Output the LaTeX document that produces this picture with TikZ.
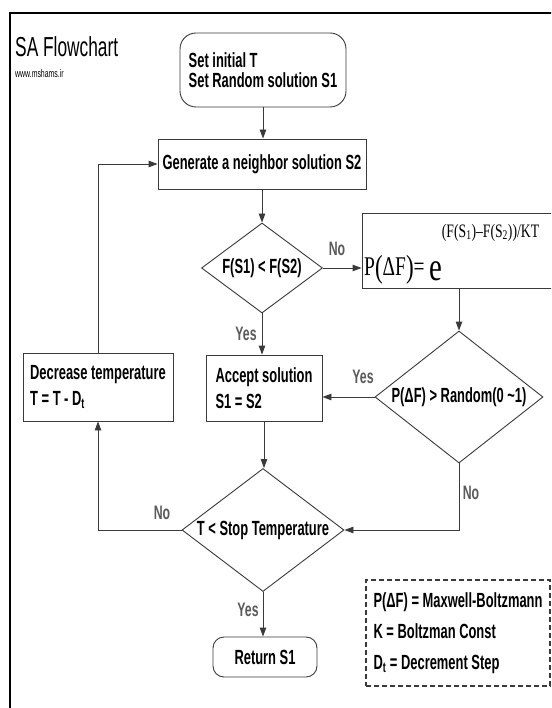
\documentclass[tikz,border=0pt]{standalone}
\usepackage{fontspec}
\setmainfont{Liberation Sans}
\newfontfamily\nar[FakeStretch=0.63]{Liberation Sans}
\newfontfamily\ser[FakeStretch=0.72]{Liberation Serif}
\usetikzlibrary{shapes.geometric,arrows.meta}
\definecolor{linec}{HTML}{3A3A3A}
\definecolor{labc}{HTML}{5A5A5A}
\newcommand\nodefont{\nar\bfseries\fontsize{20.5}{26}\selectfont}
\newcommand\labfont{\nar\bfseries\fontsize{19.5}{19.5}\selectfont}
\begin{document}
\begin{tikzpicture}[x=1pt,y=-1pt,
 box/.style={draw=linec, line width=0.9pt, rectangle, inner sep=0pt, font=\nodefont, align=left},
 term/.style={box, rounded corners=16pt},
 dia/.style={draw=linec, line width=0.9pt, diamond, inner sep=0pt, font=\nodefont},
 arr/.style={draw=linec, line width=0.9pt, -{Triangle[length=9pt,width=6.5pt]}},
 lab/.style={text=labc, font=\labfont, inner sep=0pt},
 frame/.style={draw=black, line width=2.6pt}]
\useasboundingbox (0,0) rectangle (551,708);
\clip (0,0) rectangle (551,708);
\fill[white] (0,0) rectangle (551,708);
\draw[frame] (10,760) -- (10,13) -- (600,13);

\node[anchor=base west, font=\nar\fontsize{27.5}{27.5}\selectfont, inner sep=0pt] (title) at (15,57) {SA Flowchart};
\node[anchor=base west, font=\nar\fontsize{11}{11}\selectfont, inner sep=0pt] (url) at (15,78) {www.mshams.ir};

\node[term, minimum width=166pt, minimum height=74pt, font=\nar\bfseries\fontsize{20.5}{20}\selectfont] (start) at (263,70) {Set initial T\\Set Random solution S1};
\node[box, minimum width=208pt, minimum height=50pt, align=center] (gen) at (262,164) {Generate a neighbor solution S2};
\node[dia, aspect=1.34, minimum width=121pt, minimum height=90pt] (d1) at (262,268) {F(S1) < F(S2)};
\node[box, minimum width=194pt, minimum height=75pt] (pbox) at (459,250.5) {};
\node[anchor=base west, inner sep=0pt, font=\ser] (formula) at (364,275) {{\fontsize{27}{27}\selectfont P\raisebox{-2pt}{\fontsize{32}{32}\selectfont(}ΔF\raisebox{-2pt}{\fontsize{32}{32}\selectfont)}=\,}\raisebox{-5pt}{\fontsize{40}{40}\selectfont e}\raisebox{38pt}{\fontsize{19}{19}\selectfont (F(S\textsubscript{1})–F(S\textsubscript{2}))/KT}};
\node[box, minimum width=116pt, minimum height=66pt] (acc) at (264,388) {Accept solution\\S1 = S2};
\node[box, minimum width=150pt, minimum height=68pt] (dec) at (98,387) {Decrease temperature\\T = T - D\textsubscript{t}};
\node[dia, aspect=1.27, minimum width=168pt, minimum height=132pt] (d2) at (459,397) {P(ΔF) > Random(0 \textasciitilde1)};
\node[dia, aspect=1.32, minimum width=162pt, minimum height=123pt] (d3) at (263,530) {T < Stop Temperature};
\node[term, rounded corners=11pt, minimum width=104pt, minimum height=40pt, align=center] (ret) at (265,657) {Return S1};
\node[draw=linec, dash pattern=on 5pt off 3pt, line width=1.4pt, minimum width=184pt, minimum height=106pt, inner sep=0pt, align=left, font=\nar\bfseries\fontsize{20.5}{31}\selectfont] (legend) at (458,633) {P(ΔF) = Maxwell-Boltzmann\\K = Boltzman Const\\D\textsubscript{t} = Decrement Step};

\draw[arr] (start.south) -- (start.south |- gen.north);
\draw[arr] (gen) -- (d1);
\draw[arr] (d1.east) -- (d1.east -| pbox.west);
\draw[arr] (pbox.south) -- (d2.north);
\draw[arr] (d2.west) -- (d2.west -| acc.east);
\draw[arr] (d1.south) -- (d1.south |- acc.north);
\draw[arr] (acc.south) -- (acc.south |- d3.north);
\draw[arr] (d2.south) |- (d3.east);
\draw[arr] (d3.west) -| (dec.south);
\draw[arr] (dec.north) |- (gen.west);
\draw[arr] (d3.south) -- (d3.south |- ret.north);

\node[lab] (no1) at (337,249) {No};
\node[lab] (yes1) at (246,334) {Yes};
\node[lab] (yes2) at (363,377) {Yes};
\node[lab] (no2) at (471,493) {No};
\node[lab] (no3) at (162,513) {No};
\node[lab] (yes3) at (248,610) {Yes};
\end{tikzpicture}
\end{document}
